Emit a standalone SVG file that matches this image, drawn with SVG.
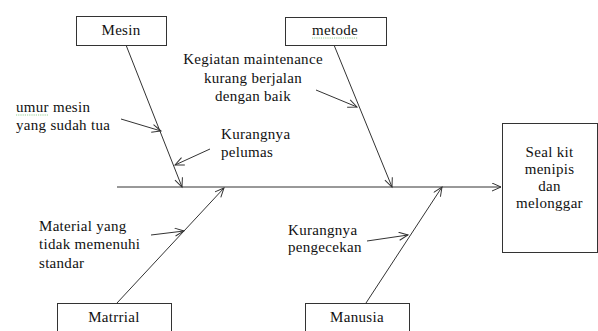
<svg xmlns="http://www.w3.org/2000/svg" width="598" height="331" viewBox="0 0 598 331">
<defs>
<marker id="arr" markerUnits="userSpaceOnUse" markerWidth="12" markerHeight="10" refX="10" refY="4.5" orient="auto">
<path d="M1,0.5 L10,4.5 L1,8.5" fill="none" stroke="#333" stroke-width="1"/>
</marker>
<style>
.box{fill:#fff;stroke:#333;stroke-width:1}
.ln{stroke:#333;stroke-width:1;fill:none}
.t{font-family:'Liberation Serif','Times New Roman',Tinos,'DejaVu Serif',serif;font-size:15px;letter-spacing:0.3px;fill:#111}
.m{text-anchor:middle}
.sq{fill:none;stroke:#7cc47c;stroke-width:0.8;stroke-dasharray:1.2 1}
</style>
</defs>
<rect width="598" height="331" fill="#fff"/>
<g id="connectors">
<line class="ln" x1="117" y1="187" x2="501" y2="187" marker-end="url(#arr)"/>
<line class="ln" x1="126" y1="45" x2="182" y2="187" marker-end="url(#arr)"/>
<line class="ln" x1="334" y1="45" x2="392" y2="187" marker-end="url(#arr)"/>
<line class="ln" x1="117" y1="303" x2="224" y2="188" marker-end="url(#arr)"/>
<line class="ln" x1="366" y1="303" x2="442" y2="187" marker-end="url(#arr)"/>
<line class="ln" x1="121" y1="119" x2="161" y2="131" marker-end="url(#arr)"/>
<line class="ln" x1="210" y1="149" x2="175" y2="165" marker-end="url(#arr)"/>
<line class="ln" x1="316" y1="90" x2="357" y2="107" marker-end="url(#arr)"/>
<line class="ln" x1="151" y1="235" x2="184" y2="231" marker-end="url(#arr)"/>
<line class="ln" x1="367" y1="241" x2="408" y2="235" marker-end="url(#arr)"/>
</g>
<g id="mesin">
<rect class="box" x="76.5" y="16.5" width="90" height="29"/>
<text class="t m" x="121" y="35">Mesin</text>
</g>
<g id="metode">
<rect class="box" x="285.5" y="17.5" width="101" height="28"/>
<text class="t m" x="335" y="35">metode</text>
<path class="sq" d="M312,38 L358,38"/>
</g>
<g id="seal">
<rect class="box" x="502.5" y="123.5" width="95" height="129"/>
<text class="t m" x="549.5" y="157">Seal kit</text>
<text class="t m" x="549.5" y="174">menipis</text>
<text class="t m" x="549.5" y="191">dan</text>
<text class="t m" x="549.5" y="208">melonggar</text>
</g>
<g id="matrrial">
<rect class="box" x="57.5" y="303.5" width="114" height="40"/>
<text class="t m" x="114" y="322">Matrrial</text>
</g>
<g id="manusia">
<rect class="box" x="305.5" y="303.5" width="104" height="40"/>
<text class="t m" x="357" y="322">Manusia</text>
</g>
<g id="causes">
<text class="t m" x="253" y="64">Kegiatan maintenance</text>
<text class="t m" x="253" y="83">kurang berjalan</text>
<text class="t m" x="253" y="101">dengan baik</text>
<text class="t" x="16" y="112">umur mesin</text>
<path class="sq" d="M16,115 L49,115"/>
<text class="t" x="16" y="130">yang sudah tua</text>
<text class="t" x="221" y="139">Kurangnya</text>
<text class="t" x="221" y="157">pelumas</text>
<text class="t" x="39" y="231">Material yang</text>
<text class="t" x="39" y="249">tidak memenuhi</text>
<text class="t" x="39" y="268">standar</text>
<text class="t" x="288" y="235">Kurangnya</text>
<text class="t" x="288" y="252">pengecekan</text>
</g>
</svg>
